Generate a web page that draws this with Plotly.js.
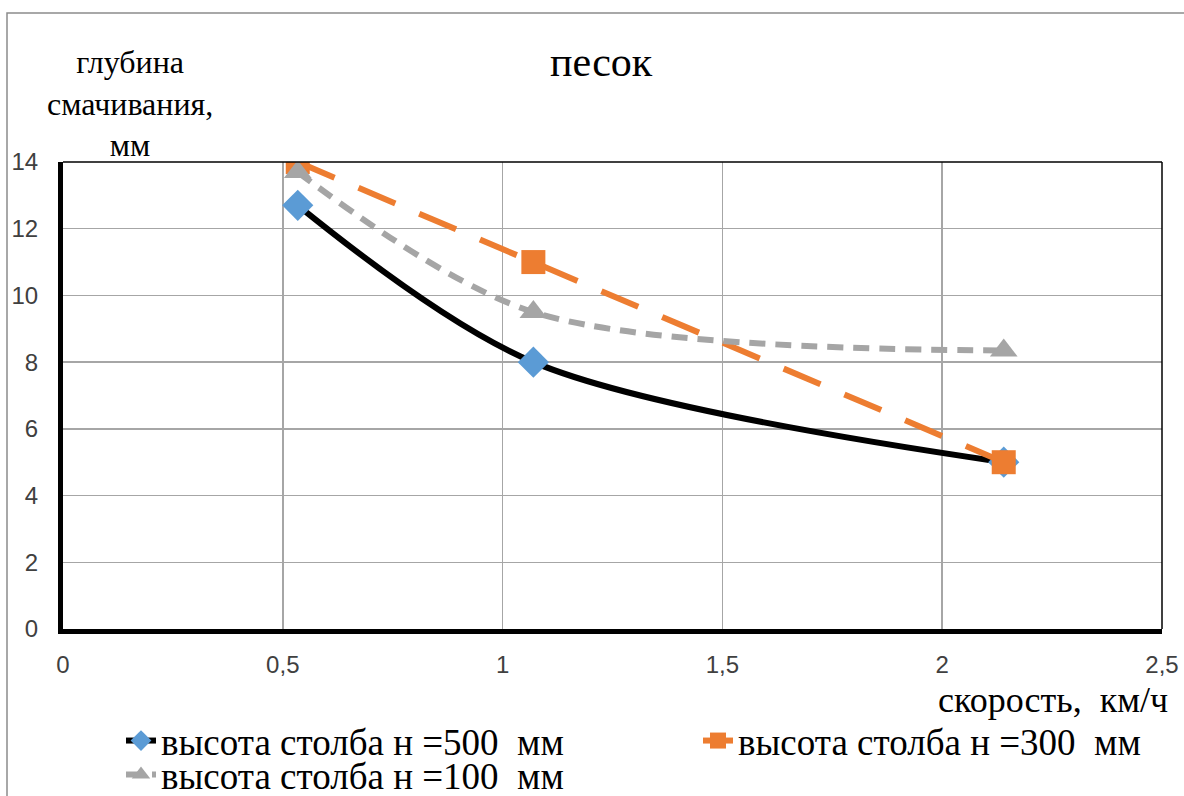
<!DOCTYPE html>
<html>
<head>
<meta charset="utf-8">
<script src="https://cdn.plot.ly/plotly-3.0.1.min.js"></script>
<style>html,body{margin:0;padding:0;background:#fff;}#chart{width:1184px;height:796px;}</style>
</head>
<body>
<div id="chart"></div>
<script>
const speed = [0.534, 1.07, 2.14];
const depth500 = [12.7, 8.0, 5.0];
const depth300 = [14.0, 11.0, 5.0];
const depth100 = [13.7, 9.5, 8.35];
const seriesNames = ['высота столба н =500  мм', 'высота столба н =300  мм', 'высота столба н =100  мм'];
const chartTitle = 'песок';
const yTitle = 'глубина<br>смачивания,<br>мм';
const xTitle = 'скорость,  км/ч';

const serif = 'Liberation Serif, Times New Roman, serif';
const sans = 'Liberation Sans, Arial, sans-serif';

// plot area in pixels (l=63, r=1162, t=162, b=629)
const L = 63, R = 1162, T = 162, B = 629, W = 1184, H = 796;
const px = v => (v - L) / (R - L);
const py = v => (B - v) / (B - T);

const traces = [
  {x: speed, y: depth500, name: seriesNames[0], mode: 'lines+markers', legend: 'legend',
   line: {color: '#000000', width: 6, shape: 'spline', smoothing: 0.9},
   marker: {symbol: 'diamond', size: 24, color: '#5b9bd5'}},
  {x: speed, y: depth300, name: seriesNames[1], mode: 'lines+markers', legend: 'legend2',
   line: {color: '#ed7d31', width: 6, dash: '40px,26px'},
   marker: {symbol: 'square', size: 24, color: '#ed7d31'}},
  {x: speed, y: depth100, name: seriesNames[2], mode: 'lines+markers', legend: 'legend3',
   line: {color: '#a5a5a5', width: 6, dash: '16px,10px', shape: 'spline', smoothing: 0.9},
   marker: {symbol: 'triangle-up', size: 24, color: '#a5a5a5'}}
];

const legendFont = {family: serif, size: 37, color: '#000'};
const mkLegend = (xpx, ypx) => ({orientation: 'h', xref: 'container', yref: 'container',
  x: xpx / W, y: 1 - ypx / H, xanchor: 'left', yanchor: 'middle',
  font: legendFont, bgcolor: 'rgba(0,0,0,0)', borderwidth: 0});

const layout = {
  width: W, height: H,
  margin: {l: L, r: W - R, t: T, b: H - B},
  paper_bgcolor: '#ffffff', plot_bgcolor: '#ffffff',
  separators: ', ',
  showlegend: true,
  legend: mkLegend(121, 741),
  legend2: mkLegend(698, 741),
  legend3: mkLegend(121, 775),
  xaxis: {range: [0, 2.5], dtick: 0.5, tick0: 0, showgrid: true, gridcolor: '#a6a6a6', gridwidth: 1.5,
    zeroline: false, showline: true, linecolor: '#000', linewidth: 5,
    ticks: 'outside', ticklen: 0, ticklabelstandoff: 10,
    tickfont: {family: sans, size: 24, color: '#404040'}},
  yaxis: {range: [0, 14], dtick: 2, tick0: 0, showgrid: true, gridcolor: '#a6a6a6', gridwidth: 1.5,
    zeroline: false, showline: true, linecolor: '#000', linewidth: 5,
    ticks: 'outside', ticklen: 0, ticklabelstandoff: 15,
    tickfont: {family: sans, size: 24, color: '#404040'}},
  shapes: [
    {type: 'line', xref: 'paper', yref: 'paper', x0: 0, x1: 1, y0: 1, y1: 1, line: {color: '#000', width: 1.5}},
    {type: 'line', xref: 'paper', yref: 'paper', x0: 1, x1: 1, y0: 0, y1: 1, line: {color: '#000', width: 1.5}},
    {type: 'rect', xref: 'paper', yref: 'paper', x0: px(7), x1: px(1200), y0: py(810), y1: py(13), line: {color: '#8c8c8c', width: 1.5}}
  ],
  annotations: [
    {text: chartTitle, xref: 'paper', yref: 'paper', x: px(601), y: py(62), xanchor: 'center', yanchor: 'middle',
     showarrow: false, font: {family: serif, size: 42, color: '#000'}},
    {text: yTitle, xref: 'paper', yref: 'paper', x: px(130), y: py(104), xanchor: 'center', yanchor: 'middle',
     align: 'center', showarrow: false, font: {family: serif, size: 32, color: '#000'}},
    {text: xTitle, xref: 'paper', yref: 'paper', x: px(1170), y: py(700), xanchor: 'right', yanchor: 'middle',
     showarrow: false, font: {family: serif, size: 36, color: '#000'}}
  ]
};

Plotly.newPlot('chart', traces, layout, {displayModeBar: false, staticPlot: true});
</script>
</body>
</html>
